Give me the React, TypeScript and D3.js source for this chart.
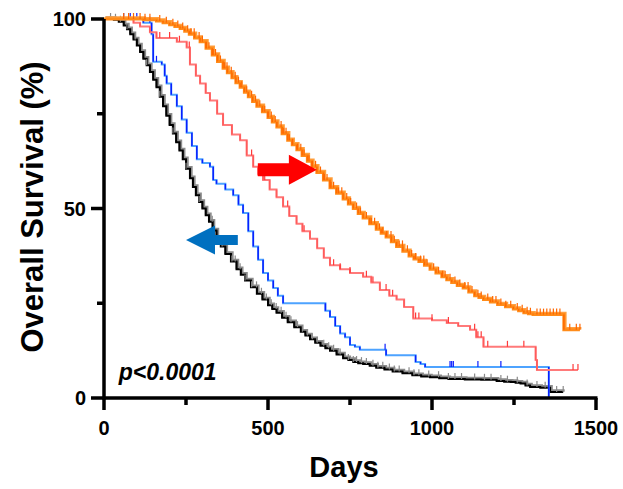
import * as d3 from "d3";

// Kaplan-Meier curves: [day, survival %]
const blackCurve: [number, number][] = [
  [0, 100], [30, 99.8], [45, 99.3], [60, 98.3], [70, 97.3], [80, 96], [90, 94.6], [100, 93],
  [110, 91.3], [120, 89.5], [130, 87.8], [140, 86], [150, 84], [160, 82], [170, 79.5], [180, 77],
  [190, 74.5], [200, 72], [210, 69.8], [220, 67.5], [230, 65.3], [240, 63], [250, 60.5],
  [262, 58], [271, 55.7], [280, 53.5], [290, 51.7], [300, 50], [310, 48.2], [320, 46.5],
  [331, 44.2], [343, 42], [356, 40], [370, 38], [387, 36], [404, 34], [417, 32.5], [430, 31],
  [448, 29.2], [466, 27.5], [483, 26], [500, 24.5], [513, 23.5], [526, 22.5], [543, 21.2],
  [560, 20], [580, 18.7], [600, 17.5], [614, 16.5], [628, 15.5], [644, 14.6], [660, 13.8],
  [675, 13.1], [689, 12.5], [709, 11.5], [729, 10.5], [745, 10], [760, 9.5], [775, 9.2],
  [790, 9], [810, 8.5], [830, 8], [855, 7.5], [880, 7], [910, 6.5], [940, 6], [967, 5.7],
  [994, 5.5], [1022, 5.2], [1050, 5], [1100, 4.9], [1150, 4.8], [1197, 4.5], [1220, 4.3],
  [1240, 4.2], [1255, 4], [1270, 3.8], [1285, 3.3], [1299, 2.9], [1330, 2.7], [1360, 1.6],
  [1400, 1.6],
];
const blueCurve: [number, number][] = [
  [0, 100], [120, 99], [145, 96], [150, 88.7], [176, 88], [185, 85], [191, 83], [205, 80],
  [222, 77], [237, 73.5], [252, 70], [268, 66.5], [283, 63], [300, 62], [323, 61], [333, 57.5],
  [343, 56.5], [370, 55], [394, 53.5], [410, 51], [424, 48.8], [440, 44], [455, 40], [470, 36.5],
  [485, 33], [500, 31], [516, 29], [530, 27], [546, 25], [659, 25], [675, 23], [689, 21.4],
  [705, 19], [720, 17], [735, 16], [750, 14], [765, 13.5], [780, 12.7], [860, 11.3], [950, 9.5],
  [965, 9], [979, 8.2], [1354, 8.2], [1356, 0],
];
const pinkCurve: [number, number][] = [
  [0, 100], [90, 99], [110, 98], [140, 96.5], [160, 95], [222, 94], [252, 92.5], [262, 88],
  [280, 85], [293, 83], [310, 80.5], [323, 78.5], [345, 75], [363, 72], [390, 69.5], [415, 68],
  [435, 64], [455, 61], [470, 59], [485, 57.5], [505, 55], [526, 53], [546, 50.5], [565, 48],
  [587, 46], [605, 44], [628, 42], [650, 39.5], [670, 37], [689, 35], [720, 34], [750, 33],
  [790, 32], [815, 30.5], [841, 28.5], [870, 27], [892, 26], [915, 24], [943, 21], [1000, 20.5],
  [1045, 19.8], [1080, 19], [1116, 18], [1135, 16], [1157, 13.5], [1312, 13.5], [1316, 10],
  [1320, 7.4], [1445, 7.4],
];
const orangeCurve: [number, number][] = [
  [0, 100], [120, 99.8], [160, 99.5], [180, 99], [200, 98.5], [216, 98], [232, 97.5],
  [246, 96.8], [260, 96], [276, 95], [293, 94], [311, 92.3], [330, 90.5], [346, 88.8],
  [363, 87], [376, 85.8], [390, 84.5], [402, 83.2], [415, 82], [428, 80.7], [440, 79.5],
  [453, 78.2], [466, 77], [483, 75.5], [500, 74], [513, 72.8], [527, 71.5], [543, 69.7],
  [560, 68], [574, 66.8], [588, 65.5], [604, 64], [620, 62.5], [634, 61], [649, 59.5],
  [669, 57.5], [689, 55.5], [709, 54], [729, 52.5], [745, 51.2], [760, 50], [775, 48.7],
  [790, 47.5], [810, 46], [830, 44.5], [845, 43.5], [860, 42.5], [876, 41.2], [892, 40],
  [911, 38.7], [930, 37.5], [945, 36.7], [960, 36], [977, 35], [994, 34], [1012, 33],
  [1030, 32], [1045, 31.2], [1060, 30.5], [1077, 29.7], [1095, 29], [1112, 28], [1130, 27],
  [1143, 26.5], [1157, 26], [1178, 25.3], [1200, 24.7], [1224, 24.1], [1248, 23.5],
  [1264, 23], [1280, 22.5], [1294, 22.2], [1308, 22], [1402, 18], [1451, 18],
];

// censored observations (days)
const blackCensor = [20, 35, 50, 70, 95, 130, 170, 210, 250, 290, 330, 360, 390, 400, 415, 430,
  450, 465, 480, 495, 510, 525, 540, 555, 570, 590, 605, 620, 635, 650, 670, 685, 700, 720, 745,
  760, 770, 785, 800, 820, 835, 850, 870, 885, 900, 930, 945, 960, 990, 1020, 1050, 1070, 1090,
  1130, 1160, 1180, 1210, 1230, 1260, 1290, 1320, 1345, 1380, 1400];
const blueCensor = [60, 80, 100, 140, 160, 857, 1055, 1060, 1065, 1140, 1210];
const pinkCensor = [170, 200, 230, 260, 450, 490, 560, 610, 700, 720, 750, 800, 820, 860, 880,
  950, 960, 1000, 1050, 1130, 1140, 1150, 1170, 1230, 1280, 1430, 1445];
const orangeCensor = [60, 75, 90, 110, 125, 140, 170, 190, 210, 225, 240, 255, 265, 275, 290,
  300, 312, 320, 333, 340, 355, 368, 375, 388, 400, 410, 420, 435, 450, 462, 475, 490, 500, 510,
  522, 540, 548, 555, 565, 575, 590, 600, 610, 625, 635, 645, 660, 672, 680, 692, 700, 715, 725,
  740, 752, 770, 782, 800, 815, 825, 840, 850, 862, 875, 885, 900, 910, 925, 938, 950, 965, 975,
  985, 1005, 1020, 1032, 1040, 1055, 1070, 1085, 1100, 1110, 1122, 1140, 1150, 1170, 1185, 1195,
  1210, 1225, 1240, 1260, 1275, 1290, 1300, 1320, 1330, 1340, 1350, 1360, 1370, 1380, 1390,
  1420, 1440, 1451];

const xTicks = [0, 500, 1000, 1500];
const xMinor = [250, 750, 1250];
const yTicks = [0, 50, 100];
const yMinor = [25, 75];

const W = 623;
const H = 489;
const x = d3.scaleLinear([0, 1500], [104, 596]);
const y = d3.scaleLinear([0, 100], [398, 19]);

const FONT = "'Liberation Sans', Arial, sans-serif";

const line = d3
  .line<[number, number]>()
  .x((d) => x(d[0]))
  .y((d) => y(d[1]))
  .curve(d3.curveStepAfter);

const bis = d3.bisector((d: [number, number]) => d[0]).right;
const survAt = (data: [number, number][], t: number) => data[Math.max(0, bis(data, t) - 1)][1];

const series = [
  { data: blackCurve, censor: blackCensor, line: "#000000", width: 2, shade: "#8c8c8c", tick: "#8a8a8a", drop: "#000000" },
  { data: blueCurve, censor: blueCensor, line: "#4da3ff", width: 2, shade: null, tick: "#0a1eff", drop: "#0a1eff" },
  { data: pinkCurve, censor: pinkCensor, line: "#ff7a7a", width: 2, shade: null, tick: "#ff3a3a", drop: "#ff5a5a" },
  { data: orangeCurve, censor: orangeCensor, line: "#ff8c1a", width: 3, shade: "#ffa040", tick: "#ff6600", drop: "#ff6a00" },
];

function Arrow({ from, to, body, head, headLen, color }: {
  from: [number, number]; to: [number, number]; body: number; head: number; headLen: number; color: string;
}) {
  const x0 = x(from[0]);
  const x1 = x(to[0]);
  const cy = y(from[1]);
  const dir = Math.sign(x1 - x0);
  const xb = x1 - dir * headLen;
  const pts = [
    [x0, cy - body], [xb, cy - body], [xb, cy - head], [x1, cy],
    [xb, cy + head], [xb, cy + body], [x0, cy + body],
  ];
  return <polygon points={pts.map((p) => p.join(",")).join(" ")} fill={color} />;
}

export default function App() {
  return (
    <svg width={W} height={H} style={{ position: "absolute", left: 0, top: 0, background: "#fff" }}>
      {series.map((s, i) => (
        <g key={i}>
          {s.shade && (
            <path d={line(s.data) ?? ""} fill="none" stroke={s.shade} strokeWidth={2.5}
              transform="translate(1.5,-1.5)" />
          )}
          <path d={line(s.data) ?? ""} fill="none" stroke={s.line} strokeWidth={s.width} />
          {s.data.slice(1).map((d, j) =>
            d[1] < s.data[j][1] ? (
              <line key={j} x1={x(d[0])} x2={x(d[0])} y1={y(s.data[j][1])} y2={y(d[1])}
                stroke={s.drop} strokeWidth={1.5} />
            ) : null
          )}
          {s.censor.map((t, j) => {
            const yy = y(survAt(s.data, t));
            return <line key={"c" + j} x1={x(t)} x2={x(t)} y1={yy} y2={yy - 6} stroke={s.tick} strokeWidth={1.2} />;
          })}
        </g>
      ))}

      <Arrow from={[469, 60.2]} to={[649, 60.2]} body={6.5} head={15} headLen={28} color="#ff0000" />
      <Arrow from={[408, 41.7]} to={[250, 41.7]} body={5} head={14.5} headLen={29} color="#0070c0" />

      {/* axes */}
      <g stroke="#000" strokeWidth={3.5}>
        <line x1={x(0)} x2={x(1500) + 1.5} y1={y(0)} y2={y(0)} />
        <line x1={x(0)} x2={x(0)} y1={y(100)} y2={y(0) + 1.5} />
        {xTicks.map((t) => <line key={"xt" + t} x1={x(t)} x2={x(t)} y1={y(0)} y2={y(0) + 12} />)}
        {xMinor.map((t) => <line key={"xm" + t} x1={x(t)} x2={x(t)} y1={y(0)} y2={y(0) + 7} />)}
        {yTicks.map((t) => <line key={"yt" + t} x1={x(0) - 13} x2={x(0)} y1={y(t)} y2={y(t)} />)}
        {yMinor.map((t) => <line key={"ym" + t} x1={x(0) - 7} x2={x(0)} y1={y(t)} y2={y(t)} />)}
      </g>
      <g fontFamily={FONT} fontWeight="bold" fontSize={20} fill="#000">
        {xTicks.map((t) => (
          <text key={"xl" + t} x={x(t)} y={435} textAnchor="middle">{t}</text>
        ))}
        {yTicks.map((t) => (
          <text key={"yl" + t} x={86} y={y(t) + 7} textAnchor="end">{t}</text>
        ))}
      </g>
      <text x={344} y={477} textAnchor="middle" fontFamily={FONT} fontWeight="bold" fontSize={29}>Days</text>
      <text transform={`translate(43,${207}) rotate(-90)`} textAnchor="middle" fontFamily={FONT}
        fontWeight="bold" fontSize={31}>Overall Survival (%)</text>
      <text x={x(45)} y={y(4.7)} fontFamily={FONT} fontWeight="bold" fontStyle="italic" fontSize={23}>p&lt;0.0001</text>
    </svg>
  );
}
